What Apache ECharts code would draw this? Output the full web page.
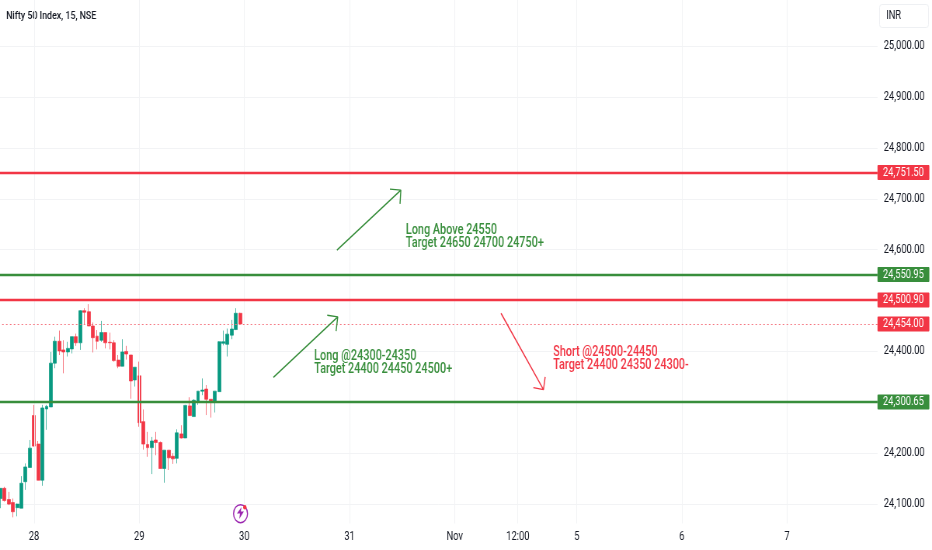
<!DOCTYPE html>
<html><head><meta charset="utf-8">
<style>html,body{margin:0;padding:0;background:#fff;width:932px;height:550px;overflow:hidden}
#c{width:1200px;height:550px;transform:scaleX(0.77667);transform-origin:0 0}</style>
<script src="https://cdn.jsdelivr.net/npm/echarts@6/dist/echarts.min.js"></script>
</head><body><div id="c"></div>
<script>
// [open, close, low, high]
const candles = [
[24111,24131,24092,24131],[24131,24107,24105,24134],[24109,24100,24098,24124],[24103,24085,24074,24111],
[24093,24100,24076,24101],[24092,24141,24092,24155],[24144,24173,24128,24180],[24172,24210,24172,24226],
[24274,24214,24213,24295],[24218,24147,24147,24224],[24147,24289,24136,24295],[24287,24292,24246,24295],
[24291,24377,24291,24399],[24377,24420,24367,24429],[24420,24401,24393,24441],[24403,24399,24357,24422],
[24399,24406,24390,24419],[24405,24429,24396,24429],[24429,24417,24411,24435],[24417,24480,24403,24481],
[24480,24477,24452,24485],[24478,24450,24450,24493],[24450,24427,24398,24457],[24430,24420,24404,24442],
[24422,24437,24419,24460],[24437,24417,24406,24437],[24418,24417,24404,24437],[24417,24382,24380,24422],
[24383,24371,24367,24393],[24371,24399,24371,24424],[24400,24395,24384,24411],[24393,24342,24307,24393],
[24344,24369,24331,24369],[24352,24260,24252,24380],[24262,24218,24207,24286],[24217,24211,24193,24242],
[24211,24224,24159,24232],[24226,24221,24196,24242],[24221,24170,24170,24223],[24170,24206,24142,24206],
[24206,24191,24167,24206],[24194,24189,24179,24200],[24190,24240,24180,24247],[24238,24230,24229,24255],
[24230,24294,24230,24295],[24293,24274,24273,24310],[24272,24304,24272,24306],[24302,24322,24295,24322],
[24322,24324,24314,24347],[24326,24306,24275,24334],[24306,24301,24270,24306],[24301,24322,24280,24322],
[24321,24419,24321,24420],[24416,24419,24412,24441],[24414,24434,24390,24445],[24432,24444,24424,24462],
[24443,24475,24442,24485],[24475,24454,24452,24476]
];
const slotCount = 209;
const tickIndex = [8,33,58,83,108,123,137,162,187];
const tickLabels = ['28','29','30','31','Nov','12:00','5','6','7'];
const levelValues = [24751.50,24550.95,24500.90,24300.65];
const levelColors = ['#f23645','#388e3c','#f23645','#388e3c'];
const lastPrice = 24454.00;
const arrowGreen1 = [[80.0,24599],[95.2,24717],[92.6,24719],[95.2,24717],[95.0,24690]];
const arrowGreen2 = [[64.9,24349],[80.2,24468],[77.7,24471],[80.2,24468],[79.8,24440]];
const arrowRed = [[119.0,24475],[129.1,24325],[126.7,24329],[129.1,24325],[129.5,24350]];
const notes = [
 {at:[96.4,24624],text:'Long Above 24550\nTarget 24650 24700 24750+',color:'#388e3c'},
 {at:[74.6,24377],text:'Long @24300-24350\nTarget 24400 24450 24500+',color:'#388e3c'},
 {at:[131.4,24385],text:'Short @24500-24450\nTarget 24400 24350 24300-',color:'#f23645'}
];
const FONT = 'Roboto,sans-serif';
const cats = Array.from({length:slotCount},(_,i)=>String(i));
const money = v => v.toLocaleString('en-US',{minimumFractionDigits:2,maximumFractionDigits:2});
const tag = c => ({show:true,position:'end',distance:0,formatter:p=>money(p.value),color:'#fff',backgroundColor:c,opacity:1,
  fontFamily:FONT,fontSize:12,lineHeight:13,padding:[2,7,0,7],borderRadius:1});
const arrow = (d,c)=>({type:'line',xAxisIndex:1,data:d,symbol:'none',z:6,silent:true,lineStyle:{color:c,width:1.4},animation:false});
const chart = echarts.init(document.getElementById('c'),null,{renderer:'canvas'});
chart.setOption({
 animation:false,backgroundColor:'#fff',
 grid:{left:-2.27,top:-4.8,width:1132.1,height:559.8,containLabel:false,outerBoundsMode:'none'},
 xAxis:[
  {type:'category',data:cats,boundaryGap:true,offset:-33,
   axisLine:{show:false},axisTick:{show:false},splitLine:{show:false},
   axisLabel:{interval:(i)=>tickIndex.includes(i),formatter:(v)=>{const k=tickIndex.indexOf(+v);return k<0?'':tickLabels[k];},
     color:'#131722',fontFamily:FONT,fontSize:12,margin:9}},
  {type:'value',min:-0.5,max:slotCount-0.5,show:false,scale:true,splitLine:{show:false}}
 ],
 yAxis:{type:'value',position:'right',min:24000,max:25100,interval:100,
  axisLine:{show:false},axisTick:{show:false},
  splitLine:{show:true,lineStyle:{color:'#f2f3f5',width:1}},
  axisLabel:{showMinLabel:false,showMaxLabel:false,margin:8,color:'#131722',fontFamily:FONT,fontSize:12,formatter:v=>money(v)}},
 series:[
  {type:'line',xAxisIndex:1,data:[],z:1,silent:true,
   markLine:{silent:true,symbol:'none',animation:false,lineStyle:{color:'#f2f3f5',width:1,type:'solid'},label:{show:false},
    data:tickIndex.map(i=>[{coord:[i,25100]},{coord:[i,24062]}])}},
  {type:'line',xAxisIndex:1,data:[],z:2,silent:true,
   markLine:{silent:true,symbol:'none',animation:false,
    data:[
     ...levelValues.map((v,i)=>({yAxis:v,lineStyle:{color:levelColors[i],width:2.4,type:'solid'},label:tag(levelColors[i])})),
     {yAxis:lastPrice,lineStyle:{color:'#f5737e',width:1,type:[2,3],opacity:1},label:tag('#f23645')}
    ]}},
  {type:'candlestick',xAxisIndex:0,data:candles,barWidth:4.4,z:3,silent:true,
   itemStyle:{color:'#089981',color0:'#f23645',borderColor:'#089981',borderColor0:'#f23645',borderWidth:0.7}},
  arrow(arrowGreen1,'#388e3c'),arrow(arrowGreen2,'#388e3c'),arrow(arrowRed,'#f23645'),
  {type:'scatter',xAxisIndex:1,symbolSize:0,z:7,silent:true,itemStyle:{opacity:1},
   data:notes.map(n=>({value:n.at,label:{show:true,position:'right',distance:0,formatter:n.text,color:n.color,opacity:1,
     fontFamily:FONT,fontSize:14,fontWeight:500,lineHeight:13,align:'left'}}))}
 ],
 graphic:[
  {type:'text',left:8,top:11,style:{text:'Nifty 50 Index, 15, NSE',fontFamily:FONT,fontSize:11.4,fontWeight:500,fill:'#131722'}},
  {type:'rect',left:1132,top:4,shape:{width:63,height:23,r:3},style:{fill:'#fff',stroke:'#eef0f3'}},
  {type:'text',left:1141,top:10,style:{text:'INR',fontFamily:FONT,fontSize:12,fill:'#131722'}},
  {type:'circle',left:300,top:504,shape:{r:9},style:{fill:'#fff',stroke:'#9c27b0',lineWidth:1.4},z:8},
  {type:'polygon',left:305,top:507,shape:{points:[[6,0],[0,6.5],[4,6.5],[3,12],[9,4.5],[5,4.5]]},style:{fill:'#9c27b0'},z:9},
  {type:'circle',left:313,top:505,shape:{r:2.2},style:{fill:'#f23645'},z:10}
 ]
});
</script></body></html>
